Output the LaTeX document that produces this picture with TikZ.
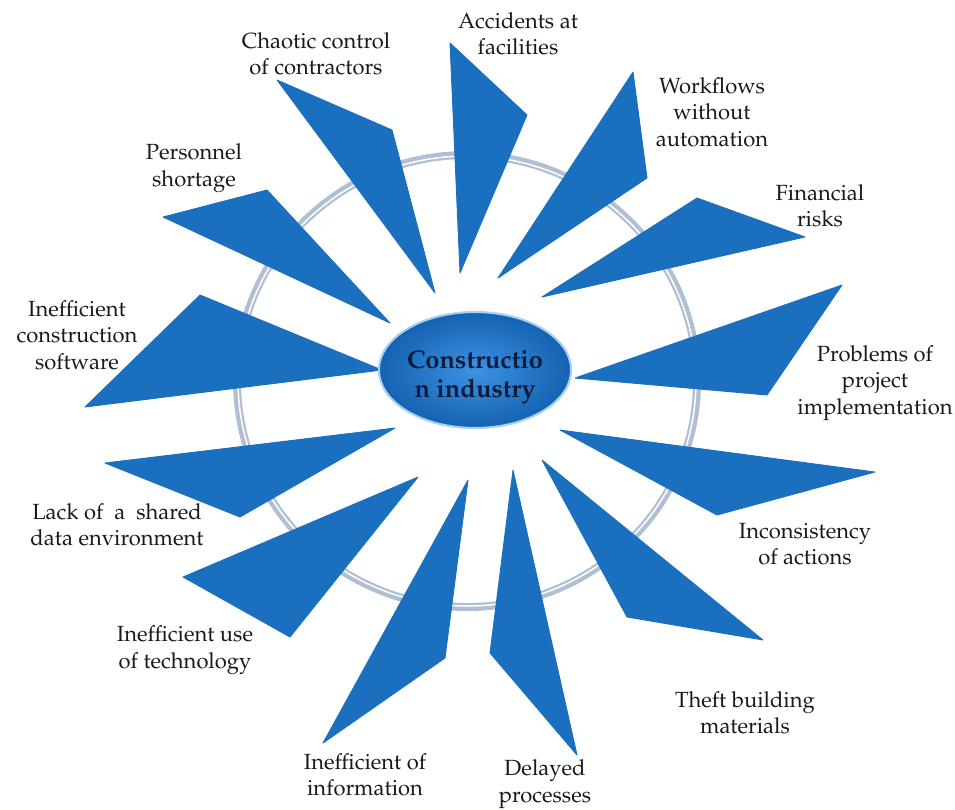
\documentclass[tikz,border=0pt]{standalone}
\usepackage[T1]{fontenc}
\usepackage{mathpazo}
\usetikzlibrary{shapes.geometric}

\definecolor{wedgeblue}{RGB}{26,111,191}
\definecolor{ringgray}{RGB}{176,191,212}
\definecolor{hubinner}{RGB}{62,146,226}
\definecolor{hubouter}{RGB}{20,98,178}
\definecolor{hubtext}{RGB}{12,28,60}
\definecolor{labeltext}{RGB}{25,25,25}

\tikzset{
  wedge/.style={fill=wedgeblue, draw=wedgeblue, line width=0.5pt, line join=round},
  lbl/.style={align=center, text=labeltext, inner sep=0pt,
    font=\fontsize{12.5}{15}\selectfont},
  hub/.style={ellipse, minimum width=3.52cm, minimum height=2.32cm, inner sep=0pt,
    text=hubtext, inner color=hubinner, outer color=hubouter,
    draw=white!55!hubinner, line width=1.2pt,
    font=\fontsize{14.5}{17}\selectfont\bfseries}
}

\begin{document}
\begin{tikzpicture}[x=0.02cm,y=-0.02cm]
            \useasboundingbox (0,0) rectangle (955,809);

            % Ring behind the wedges
            \draw[ringgray, line width=0.16cm] (467,381) ellipse [x radius=230, y radius=226];
            \draw[white, line width=0.03cm] (467,381) ellipse [x radius=229, y radius=225];

            % Wedges, tip first
            \draw[wedge] (435,293) -- (277,80) -- (392,130) -- cycle;
            \draw[wedge] (460,273) -- (450,43) -- (527,115) -- cycle;
            \draw[wedge] (498,278) -- (633,72) -- (647,178) -- cycle;
            \draw[wedge] (542,297) -- (697,198) -- (805,237) -- cycle;
            \draw[wedge] (575,378) -- (842,285) -- (767,395) -- cycle;
            \draw[wedge] (560,430) -- (875,472) -- (717,515) -- cycle;
            \draw[wedge] (542,460) -- (763,640) -- (627,617) -- cycle;
            \draw[wedge] (513,470) -- (577,755) -- (490,653) -- cycle;
            \draw[wedge] (468,480) -- (445,658) -- (323,743) -- cycle;
            \draw[wedge] (418,477) -- (290,637) -- (183,577) -- cycle;
            \draw[wedge] (395,428) -- (240,517) -- (105,463) -- cycle;
            \draw[wedge] (382,370) -- (85,407) -- (200,295) -- cycle;
            \draw[wedge] (390,323) -- (163,217) -- (267,190) -- cycle;

            % Centre node
            \node[hub] (hub) at (475,370)
              {\raisebox{-4pt}[\height][\depth]{\begin{tabular}{@{}c@{}}Constructio\\n industry\end{tabular}}};

            % Labels, clockwise from the top
            \node[lbl] (chaotic) at (316,54) {Chaotic control\\of contractors};
            \node[lbl] (accidents) at (518,34) {Accidents at\\facilities};
            \node[lbl] (workflows) at (712,112) {Workflows\\without\\automation};
            \node[lbl] (financial) at (820,206) {Financial\\risks};
            \node[lbl] (problems) at (875,383) {Problems of\\project\\implementation};
            \node[lbl] (inconsistency) at (805,544) {Inconsistency\\of actions};
            \node[lbl] (theft) at (745,713) {Theft building\\materials};
            \node[lbl] (delayed) at (545,784) {Delayed\\processes};
            \node[lbl] (information) at (365,775) {Inefficient of\\information};
            \node[lbl] (technology) at (185,650) {Inefficient use\\of technology};
            \node[lbl] (shared) at (117,525) {Lack of~~a~~shared\\data environment};
            \node[lbl] (software) at (77,335) {Inefficient\\construction\\software};
            \node[lbl] (personnel) at (194,168) {Personnel\\shortage};
\end{tikzpicture}
\end{document}
